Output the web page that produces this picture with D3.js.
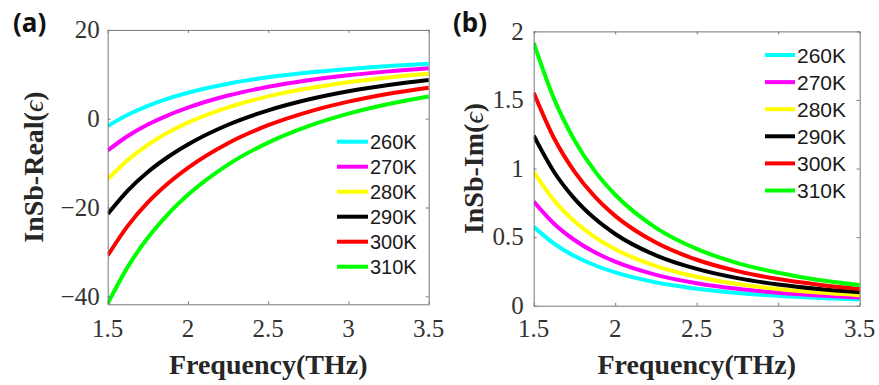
<!DOCTYPE html>
<html>
<head>
<meta charset="utf-8">
<script src="https://cdn.jsdelivr.net/npm/d3@7"></script>
<style>
  html, body { margin: 0; padding: 0; background: #fff; }
  svg { display: block; }
  .ticklabel { font-family: "Liberation Serif", "DejaVu Serif", serif; font-size: 25px; font-weight: 400; }
</style>
</head>
<body>
<svg id="chart" width="879" height="385"></svg>
<script>
// ---------- data ----------
const freq = [1.5, 1.625, 1.75, 1.875, 2, 2.25, 2.5, 2.75, 3, 3.25, 3.5];
const seriesNames = ["260K", "270K", "280K", "290K", "300K", "310K"];
const seriesColors = ["#00ffff", "#ff00ff", "#ffff00", "#000000", "#ff0000", "#00ff00"];

// Real part of permittivity
const real260 = [-1.66, 0.88, 2.90, 4.52, 5.85, 7.88, 9.32, 10.40, 11.21, 11.85, 12.35];
const real270 = [-7.17, -3.90, -1.31, 0.77, 2.50, 5.22, 7.19, 8.67, 9.79, 10.66, 11.34];
const real280 = [-13.61, -9.30, -5.89, -3.13, -0.88, 2.56, 5.02, 6.84, 8.22, 9.30, 10.15];
const real290 = [-21.48, -16.19, -12.00, -8.62, -5.80, -1.36, 1.89, 4.33, 6.19, 7.60, 8.71];
const real300 = [-30.81, -24.14, -18.85, -14.59, -11.05, -5.51, -1.47, 1.55, 3.85, 5.62, 6.99];
const real310 = [-41.66, -33.38, -26.82, -21.53, -17.15, -10.33, -5.38, -1.68, 1.14, 3.31, 5.00];

// Imaginary part of permittivity
const imag260 = [0.575, 0.453, 0.362, 0.295, 0.243, 0.170, 0.124, 0.093, 0.072, 0.057, 0.045];
const imag270 = [0.760, 0.598, 0.479, 0.389, 0.321, 0.225, 0.164, 0.123, 0.095, 0.075, 0.060];
const imag280 = [0.976, 0.768, 0.615, 0.500, 0.412, 0.289, 0.211, 0.158, 0.122, 0.096, 0.077];
const imag290 = [1.240, 0.975, 0.781, 0.635, 0.523, 0.367, 0.268, 0.201, 0.155, 0.122, 0.098];
const imag300 = [1.553, 1.221, 0.978, 0.795, 0.655, 0.460, 0.335, 0.252, 0.194, 0.153, 0.122];
const imag310 = [1.917, 1.508, 1.207, 0.981, 0.809, 0.568, 0.414, 0.311, 0.240, 0.188, 0.151];

const xTicks = [1.5, 2, 2.5, 3, 3.5];
const yTicksReal = [-40, -20, 0, 20];
const yTicksImag = [0, 0.5, 1, 1.5, 2];

const realSeries = [real260, real270, real280, real290, real300, real310];
const imagSeries = [imag260, imag270, imag280, imag290, imag300, imag310];

// ---------- drawing ----------
const svg = d3.select("#chart");
const frameColor = "#777777";
const tickTextColor = "#333333";
const serif = "Liberation Serif, DejaVu Serif, serif";

function fmt(v) {
  const s = String(v);
  return v < 0 ? "\u2212" + s.slice(1) : s;
}

function panel(cfg) {
  const g = svg.append("g");
  const x = d3.scaleLinear().domain([1.5, 3.5]).range([cfg.x0, cfg.x1]);
  const y = d3.scaleLinear().domain(cfg.yDomain).range([cfg.y1, cfg.y0]);

  const clipId = "clip-" + cfg.id;
  svg.append("clipPath").attr("id", clipId)
    .append("rect")
    .attr("x", cfg.x0).attr("y", cfg.y0 - 3)
    .attr("width", cfg.x1 - cfg.x0 + 2).attr("height", cfg.y1 - cfg.y0 + 3);

  // curves
  const line = d3.line()
    .x((d, i) => x(freq[i]))
    .y(d => y(d))
    .curve(d3.curveMonotoneX);
  const lines = g.append("g").attr("clip-path", `url(#${clipId})`);
  cfg.series.forEach((s, k) => {
    lines.append("path")
      .attr("d", line(s))
      .attr("fill", "none")
      .attr("stroke", seriesColors[k])
      .attr("stroke-width", 4)
      .attr("stroke-linecap", "butt");
  });

  // axes (frame + inward ticks), labels drawn separately
  const ax = g.append("g").attr("transform", `translate(0,${cfg.y1})`)
    .call(d3.axisBottom(x).tickValues(xTicks).tickFormat("")
      .tickSizeInner(-3).tickSizeOuter(0));
  const axTop = g.append("g").attr("transform", `translate(0,${cfg.y0})`)
    .call(d3.axisTop(x).tickValues(xTicks).tickFormat("")
      .tickSizeInner(-3).tickSizeOuter(0));
  const ay = g.append("g").attr("transform", `translate(${cfg.x0},0)`)
    .call(d3.axisLeft(y).tickValues(cfg.yTicks).tickFormat("")
      .tickSizeInner(-3).tickSizeOuter(0));
  const ayR = g.append("g").attr("transform", `translate(${cfg.x1},0)`)
    .call(d3.axisRight(y).tickValues(cfg.yTicks).tickFormat("")
      .tickSizeInner(-3).tickSizeOuter(0));

  [ax, axTop, ay, ayR].forEach(a => {
    a.select(".domain").attr("stroke", frameColor).attr("stroke-width", 1);
    a.selectAll(".tick line").attr("stroke", frameColor).attr("stroke-width", 1);
    a.selectAll(".tick text").remove();
  });

  // tick labels
  const tl = g.append("g");
  xTicks.forEach(v => {
    tl.append("text").attr("class", "ticklabel")
      .attr("x", x(v)).attr("y", 337)
      .attr("text-anchor", "middle")
      .attr("fill", tickTextColor)
      .text(fmt(v));
  });
  cfg.yTicks.forEach(v => {
    tl.append("text").attr("class", "ticklabel")
      .attr("x", cfg.x0 - cfg.yPad).attr("y", y(v))
      .attr("dy", "0.33em")
      .attr("text-anchor", "end")
      .attr("fill", tickTextColor)
      .text(fmt(v));
  });

  // axis titles
  g.append("text")
    .attr("x", (cfg.x0 + cfg.x1) / 2).attr("y", 374)
    .attr("text-anchor", "middle")
    .attr("font-family", serif).attr("font-weight", "bold").attr("font-size", 28)
    .attr("fill", "#262626")
    .text("Frequency(THz)");

  const yt = g.append("text")
    .attr("transform", `translate(${cfg.yTitleX},${(cfg.y0 + cfg.y1) / 2}) rotate(-90)`)
    .attr("text-anchor", "middle")
    .attr("font-family", serif).attr("font-weight", "bold").attr("font-size", 28)
    .attr("fill", "#262626");
  yt.append("tspan").text(cfg.yTitle + "(");
  yt.append("tspan").attr("font-weight", "normal").attr("font-style", "italic").text("\u03F5");
  yt.append("tspan").text(")");

  // panel label
  g.append("text")
    .attr("x", cfg.labelX).attr("y", 32)
    .attr("font-family", "Noto Sans, Open Sans, sans-serif")
    .attr("font-weight", "bold").attr("font-size", 26)
    .attr("fill", "#111")
    .text(cfg.label);

  // legend
  const lg = g.append("g");
  seriesNames.forEach((name, k) => {
    const yy = cfg.legY0 + k * cfg.legDy;
    lg.append("line")
      .attr("x1", cfg.legX).attr("x2", cfg.legX + cfg.legLen)
      .attr("y1", yy).attr("y2", yy)
      .attr("stroke", seriesColors[k]).attr("stroke-width", 4);
    lg.append("text")
      .attr("x", cfg.legX + cfg.legLen + 2).attr("y", yy)
      .attr("dy", "0.36em")
      .attr("font-family", "Liberation Sans, Arial, sans-serif")
      .attr("font-size", cfg.legFont)
      .attr("fill", "#1a1a1a")
      .text(name);
  });
}

panel({
  id: "a", label: "(a)", labelX: 13,
  x0: 107.7, x1: 428.7, y0: 29.9, y1: 304.3,
  yDomain: [-41.8, 20], yTicks: yTicksReal,
  series: realSeries, yTitle: "InSb-Real", yTitleX: 43,
  yPad: 8,
  legX: 337, legLen: 31, legY0: 141.7, legDy: 25, legFont: 20
});

panel({
  id: "b", label: "(b)", labelX: 453,
  x0: 533.7, x1: 859.7, y0: 31.4, y1: 305.7,
  yDomain: [0, 2], yTicks: yTicksImag,
  series: imagSeries, yTitle: "InSb-Im", yTitleX: 483,
  yPad: 10,
  legX: 765, legLen: 30, legY0: 55, legDy: 27.1, legFont: 21
});
</script>
</body>
</html>
